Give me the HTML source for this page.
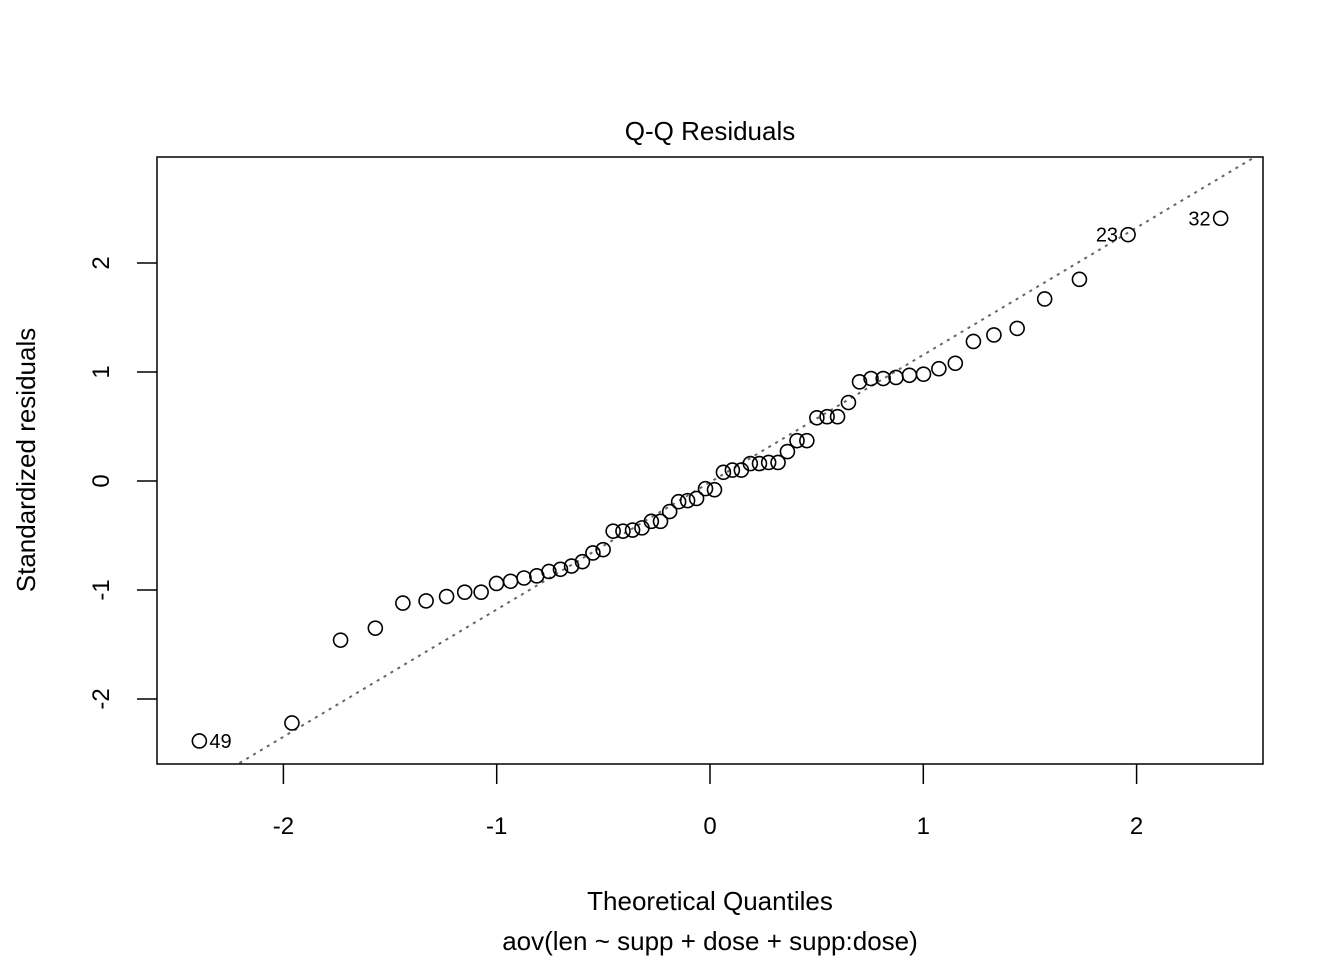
<!DOCTYPE html>
<html><head><meta charset="utf-8"><style>
html,body{margin:0;padding:0;background:#fff;}
svg{display:block;font-family:"Liberation Sans",Arial,sans-serif;}
</style></head><body>
<svg id="chart" width="1344" height="960" viewBox="0 0 1344 960" xmlns="http://www.w3.org/2000/svg">
<rect x="0" y="0" width="1344" height="960" fill="#fff"/>
<text x="710" y="140" font-size="26" text-anchor="middle">Q-Q Residuals</text>
<text x="710" y="910" font-size="26" text-anchor="middle">Theoretical Quantiles</text>
<text x="710" y="950" font-size="26" text-anchor="middle">aov(len ~ supp + dose + supp:dose)</text>
<text x="0" y="0" font-size="26" text-anchor="middle" transform="translate(35,460) rotate(-90)">Standardized residuals</text>
<g id="plot"></g>
</svg>
<script>
const xTicks=[-2,-1,0,1,2];
const yTicks=[-2,-1,0,1,2];
const theoretical=[-2.394,-1.960,-1.732,-1.569,-1.440,-1.331,-1.235,-1.150,-1.073,-1.001,-0.935,-0.872,-0.812,-0.755,-0.701,-0.649,-0.598,-0.549,-0.501,-0.454,-0.408,-0.363,-0.319,-0.275,-0.232,-0.189,-0.147,-0.105,-0.063,-0.021,
0.021,0.063,0.105,0.147,0.189,0.232,0.275,0.319,0.363,0.408,0.454,0.501,0.549,0.598,0.649,0.701,0.755,0.812,0.872,0.935,1.001,1.073,1.150,1.235,1.331,1.440,1.569,1.732,1.960,2.394];
const residuals=[-2.385,-2.22,-1.46,-1.35,-1.12,-1.10,-1.06,-1.02,-1.02,-0.94,-0.92,-0.89,-0.87,-0.83,-0.81,-0.78,-0.74,-0.66,-0.63,-0.46,-0.46,-0.45,-0.43,-0.37,-0.37,-0.28,-0.19,-0.18,-0.16,-0.07,
-0.08,0.08,0.10,0.10,0.16,0.16,0.17,0.17,0.27,0.37,0.37,0.58,0.59,0.59,0.72,0.91,0.94,0.94,0.95,0.97,0.98,1.03,1.08,1.28,1.34,1.40,1.67,1.85,2.26,2.41];
const pointLabels={0:"49",58:"23",59:"32"};
const lineIntercept=-0.011, lineSlope=1.168;

const NS="http://www.w3.org/2000/svg";
const L=157,R=1263,T=157,B=764;
const sx=v=>710+v*213.3;
const sy=v=>481-v*109;
const ix=p=>(p-710)/213.3;
const g=document.getElementById('plot');
function mk(tag,attrs){const e=document.createElementNS(NS,tag);for(const k in attrs)e.setAttribute(k,attrs[k]);g.appendChild(e);return e;}

// clip path
const defs=document.createElementNS(NS,'defs');
defs.innerHTML='<clipPath id="clip"><rect x="'+L+'" y="'+T+'" width="'+(R-L)+'" height="'+(B-T)+'"/></clipPath>';
g.appendChild(defs);

// reference line
const xa=ix(L), xb=ix(R);
const rl=mk('line',{x1:sx(xa),y1:sy(lineIntercept+lineSlope*xa),x2:sx(xb),y2:sy(lineIntercept+lineSlope*xb),stroke:'#666','stroke-width':2,'stroke-dasharray':'3,5','clip-path':'url(#clip)'});



// box
const box=mk('rect',{x:L,y:T,width:R-L,height:B-T,fill:'none',stroke:'#000','stroke-width':1.5});



// x ticks
xTicks.forEach(t=>{
  const ln=mk('line',{x1:sx(t),y1:B,x2:sx(t),y2:B+20,stroke:'#000','stroke-width':1.5});
  
  
  const tx=mk('text',{x:sx(t),y:834,'font-size':24,'text-anchor':'middle'});
  tx.textContent=t;
  
  
});
// y ticks
yTicks.forEach(t=>{
  const ln=mk('line',{x1:L-20,y1:sy(t),x2:L,y2:sy(t),stroke:'#000','stroke-width':1.5});
  
  
  const tx=mk('text',{x:0,y:0,'font-size':24,'text-anchor':'middle',transform:'translate(109,'+sy(t)+') rotate(-90)'});
  tx.textContent=t;
  
  
});

// points
theoretical.forEach((x,i)=>{
  const c=mk('circle',{cx:sx(x),cy:sy(residuals[i]),r:7,fill:'none',stroke:'#000','stroke-width':1.6});
  
  
  if(pointLabels[i]){
    const left=i>0;
    const tx=mk('text',{x:sx(x)+(left?-10:10),y:sy(residuals[i])+7,'font-size':20,'text-anchor':left?'end':'start'});
    tx.textContent=pointLabels[i];
    
    
  }
});
</script>
</body></html>
